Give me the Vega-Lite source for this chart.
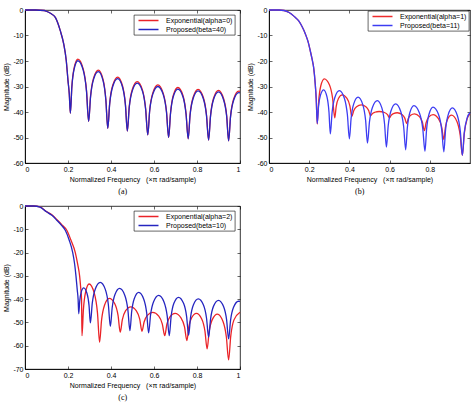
{
  "$schema": "https://vega.github.io/schema/vega-lite/v6.json",
  "padding": {"left": 2, "top": 5, "right": 0, "bottom": 0},
  "config": {
    "font": "Liberation Sans",
    "view": {"stroke": "black", "strokeWidth": 0.8},
    "axis": {
      "grid": false, "labelFontSize": 7, "titleFontSize": 7, "titleFontWeight": "normal",
      "labelColor": "black", "titleColor": "black", "domainColor": "black", "domainWidth": 0.8,
      "tickColor": "black", "tickSize": -3, "tickWidth": 0.6, "labelPadding": 5, "titlePadding": 3
    },
    "legend": {
      "orient": "top-right", "offset": 5, "fillColor": "white", "strokeColor": "black", "strokeWidth": 0.6,
      "padding": 2, "symbolType": "M-0.5,0H9.5", "symbolSize": 16, "symbolStrokeWidth": 1.5,
      "labelFont": "Liberation Sans", "labelFontSize": 7, "labelColor": "black", "labelOffset": 23,
      "rowPadding": 1, "title": null
    },
    "title": {"font": "Liberation Serif", "fontSize": 8, "fontWeight": "normal", "color": "black", "orient": "bottom", "frame": "bounds", "offset": 6}
  },
  "datasets": {
    "a": [
      {"s":"E","f":0,"m":0},{"s":"E","f":0.05,"m":0},{"s":"E","f":0.09,"m":-0.2},{"s":"E","f":0.102,"m":-0.6},{"s":"E","f":0.12,"m":-1.4},{"s":"E","f":0.141,"m":-2.9},{"s":"E","f":0.164,"m":-8.1},{"s":"E","f":0.18,"m":-13.3},{"s":"E","f":0.192,"m":-19.9},{"s":"E","f":0.2,"m":-27.7},{"s":"E","f":0.206,"m":-33},{"s":"E","f":0.211,"m":-40.5},
      {"s":"E","f":0.218,"m":-29.9},{"s":"E","f":0.2285,"m":-22.7},{"s":"E","f":0.246,"m":-19.3},{"s":"E","f":0.271,"m":-23.2},{"s":"E","f":0.286,"m":-31.5},{"s":"E","f":0.296,"m":-43.7},
      {"s":"E","f":0.305,"m":-33.7},{"s":"E","f":0.3185,"m":-26.8},{"s":"E","f":0.341,"m":-23.6},{"s":"E","f":0.363,"m":-27.2},{"s":"E","f":0.376,"m":-35},{"s":"E","f":0.385,"m":-46.4},
      {"s":"E","f":0.394,"m":-36.4},{"s":"E","f":0.408,"m":-29.5},{"s":"E","f":0.431,"m":-26.3},{"s":"E","f":0.4535,"m":-29.7},{"s":"E","f":0.467,"m":-36.9},{"s":"E","f":0.476,"m":-47.5},
      {"s":"E","f":0.485,"m":-37.8},{"s":"E","f":0.499,"m":-31.2},{"s":"E","f":0.522,"m":-28.1},{"s":"E","f":0.5465,"m":-31.4},{"s":"E","f":0.561,"m":-38.6},{"s":"E","f":0.571,"m":-49},
      {"s":"E","f":0.58,"m":-39.2},{"s":"E","f":0.5945,"m":-32.5},{"s":"E","f":0.618,"m":-29.4},{"s":"E","f":0.643,"m":-32.7},{"s":"E","f":0.658,"m":-39.7},{"s":"E","f":0.668,"m":-50},
      {"s":"E","f":0.677,"m":-40.2},{"s":"E","f":0.6895,"m":-33.5},{"s":"E","f":0.711,"m":-30.4},{"s":"E","f":0.735,"m":-33.6},{"s":"E","f":0.749,"m":-40.5},{"s":"E","f":0.759,"m":-50.5},
      {"s":"E","f":0.768,"m":-40.8},{"s":"E","f":0.782,"m":-34.2},{"s":"E","f":0.805,"m":-31.1},{"s":"E","f":0.8295,"m":-34.3},{"s":"E","f":0.844,"m":-41},{"s":"E","f":0.854,"m":-51},
      {"s":"E","f":0.863,"m":-41.3},{"s":"E","f":0.877,"m":-34.6},{"s":"E","f":0.9,"m":-31.5},{"s":"E","f":0.9235,"m":-34.7},{"s":"E","f":0.938,"m":-41.4},{"s":"E","f":0.947,"m":-51.3},
      {"s":"E","f":0.956,"m":-41.6},{"s":"E","f":0.9705,"m":-34.9},{"s":"E","f":0.994,"m":-31.8},{"s":"E","f":1,"m":-31.9},

      {"s":"P","f":0,"m":0},{"s":"P","f":0.05,"m":0},{"s":"P","f":0.09,"m":-0.2},{"s":"P","f":0.102,"m":-0.6},{"s":"P","f":0.12,"m":-1.4},{"s":"P","f":0.141,"m":-2.9},{"s":"P","f":0.164,"m":-8.1},{"s":"P","f":0.18,"m":-13.3},{"s":"P","f":0.192,"m":-19.9},{"s":"P","f":0.2,"m":-27.7},{"s":"P","f":0.206,"m":-33},{"s":"P","f":0.211,"m":-40.5},
      {"s":"P","f":0.218,"m":-30.2},{"s":"P","f":0.2285,"m":-23.2},{"s":"P","f":0.246,"m":-19.9},{"s":"P","f":0.271,"m":-23.7},{"s":"P","f":0.286,"m":-31.8},{"s":"P","f":0.296,"m":-43.7},
      {"s":"P","f":0.305,"m":-34},{"s":"P","f":0.3185,"m":-27.3},{"s":"P","f":0.341,"m":-24.2},{"s":"P","f":0.363,"m":-27.7},{"s":"P","f":0.376,"m":-35.3},{"s":"P","f":0.385,"m":-46.4},
      {"s":"P","f":0.394,"m":-36.7},{"s":"P","f":0.408,"m":-30},{"s":"P","f":0.431,"m":-26.9},{"s":"P","f":0.4535,"m":-30.2},{"s":"P","f":0.467,"m":-37.2},{"s":"P","f":0.476,"m":-47.5},
      {"s":"P","f":0.485,"m":-38.1},{"s":"P","f":0.499,"m":-31.7},{"s":"P","f":0.522,"m":-28.7},{"s":"P","f":0.5465,"m":-31.9},{"s":"P","f":0.561,"m":-38.9},{"s":"P","f":0.571,"m":-49},
      {"s":"P","f":0.58,"m":-39.5},{"s":"P","f":0.5945,"m":-33},{"s":"P","f":0.618,"m":-30},{"s":"P","f":0.643,"m":-33.2},{"s":"P","f":0.658,"m":-40},{"s":"P","f":0.668,"m":-50},
      {"s":"P","f":0.677,"m":-40.5},{"s":"P","f":0.6895,"m":-34},{"s":"P","f":0.711,"m":-31},{"s":"P","f":0.735,"m":-34.1},{"s":"P","f":0.749,"m":-40.8},{"s":"P","f":0.759,"m":-50.5},
      {"s":"P","f":0.768,"m":-41.1},{"s":"P","f":0.782,"m":-34.7},{"s":"P","f":0.805,"m":-31.7},{"s":"P","f":0.8295,"m":-34.8},{"s":"P","f":0.844,"m":-41.3},{"s":"P","f":0.854,"m":-51},
      {"s":"P","f":0.863,"m":-41.6},{"s":"P","f":0.877,"m":-35.1},{"s":"P","f":0.9,"m":-32.1},{"s":"P","f":0.9235,"m":-35.2},{"s":"P","f":0.938,"m":-41.7},{"s":"P","f":0.947,"m":-51.3},
      {"s":"P","f":0.956,"m":-41.9},{"s":"P","f":0.9705,"m":-35.4},{"s":"P","f":0.994,"m":-32.4},{"s":"P","f":1,"m":-32.5}
    ],
    "b": [
      {"s":"E","f":0,"m":0},{"s":"E","f":0.05,"m":0},{"s":"E","f":0.075,"m":-0.2},{"s":"E","f":0.1,"m":-1},{"s":"E","f":0.125,"m":-2.5},{"s":"E","f":0.147,"m":-4.2},{"s":"E","f":0.165,"m":-6.6},{"s":"E","f":0.181,"m":-9.4},{"s":"E","f":0.195,"m":-12.6},{"s":"E","f":0.205,"m":-15.9},{"s":"E","f":0.215,"m":-19.5},{"s":"E","f":0.222,"m":-22.5},{"s":"E","f":0.23,"m":-29},{"s":"E","f":0.235,"m":-35},{"s":"E","f":0.24,"m":-44.7},
      {"s":"E","f":0.247,"m":-35.9},{"s":"E","f":0.2575,"m":-29.8},{"s":"E","f":0.275,"m":-27},{"s":"E","f":0.301,"m":-29.4},{"s":"E","f":0.3166,"m":-34.7},{"s":"E","f":0.327,"m":-42.3},
      {"s":"E","f":0.3344,"m":-37.8},{"s":"E","f":0.3455,"m":-34.7},{"s":"E","f":0.364,"m":-33.3},{"s":"E","f":0.388,"m":-34.7},{"s":"E","f":0.4024,"m":-37.6},{"s":"E","f":0.412,"m":-41.8},
      {"s":"E","f":0.4214,"m":-39.5},{"s":"E","f":0.4355,"m":-37.9},{"s":"E","f":0.459,"m":-37.2},{"s":"E","f":0.482,"m":-37.9},{"s":"E","f":0.4958,"m":-39.4},{"s":"E","f":0.505,"m":-41.5},
      {"s":"E","f":0.5136,"m":-40.65},{"s":"E","f":0.5265,"m":-40.1},{"s":"E","f":0.548,"m":-39.8},{"s":"E","f":0.574,"m":-40.2},{"s":"E","f":0.5896,"m":-41.05},{"s":"E","f":0.6,"m":-42.3},
      {"s":"E","f":0.6076,"m":-41.3},{"s":"E","f":0.619,"m":-40.6},{"s":"E","f":0.638,"m":-40.3},{"s":"E","f":0.6615,"m":-41},{"s":"E","f":0.6756,"m":-42.4},{"s":"E","f":0.685,"m":-44.5},
      {"s":"E","f":0.6928,"m":-42.6},{"s":"E","f":0.7045,"m":-41.3},{"s":"E","f":0.724,"m":-40.7},{"s":"E","f":0.7485,"m":-41.8},{"s":"E","f":0.7632,"m":-44},{"s":"E","f":0.773,"m":-47.3},
      {"s":"E","f":0.7816,"m":-44.2},{"s":"E","f":0.7945,"m":-42},{"s":"E","f":0.816,"m":-41},{"s":"E","f":0.843,"m":-42.6},{"s":"E","f":0.8592,"m":-45.9},{"s":"E","f":0.87,"m":-50.8},
      {"s":"E","f":0.8776,"m":-46},{"s":"E","f":0.889,"m":-42.7},{"s":"E","f":0.908,"m":-41.2},{"s":"E","f":0.935,"m":-43.7},{"s":"E","f":0.9512,"m":-49.1},{"s":"E","f":0.962,"m":-57},
      {"s":"E","f":0.9716,"m":-48.5},{"s":"E","f":0.986,"m":-42.6},{"s":"E","f":1,"m":-40.8},

      {"s":"P","f":0,"m":0},{"s":"P","f":0.05,"m":0},{"s":"P","f":0.075,"m":-0.2},{"s":"P","f":0.1,"m":-1},{"s":"P","f":0.125,"m":-2.5},{"s":"P","f":0.147,"m":-4.2},{"s":"P","f":0.165,"m":-6.6},{"s":"P","f":0.181,"m":-9.4},{"s":"P","f":0.195,"m":-12.6},{"s":"P","f":0.205,"m":-15.9},{"s":"P","f":0.215,"m":-19.5},{"s":"P","f":0.222,"m":-22.5},{"s":"P","f":0.23,"m":-29},{"s":"P","f":0.235,"m":-35},{"s":"P","f":0.24,"m":-44.5},
      {"s":"P","f":0.2464,"m":-37.9},{"s":"P","f":0.256,"m":-33.4},{"s":"P","f":0.272,"m":-31.3},{"s":"P","f":0.2885,"m":-34.1},{"s":"P","f":0.2984,"m":-40},{"s":"P","f":0.305,"m":-48.6},
      {"s":"P","f":0.314,"m":-40.1},{"s":"P","f":0.3275,"m":-34.3},{"s":"P","f":0.35,"m":-31.6},{"s":"P","f":0.375,"m":-34.6},{"s":"P","f":0.39,"m":-41.1},{"s":"P","f":0.4,"m":-50.5},
      {"s":"P","f":0.4086,"m":-42.4},{"s":"P","f":0.4215,"m":-36.8},{"s":"P","f":0.443,"m":-34.2},{"s":"P","f":0.4665,"m":-37.1},{"s":"P","f":0.4806,"m":-43.2},{"s":"P","f":0.49,"m":-52.2},
      {"s":"P","f":0.4998,"m":-43.9},{"s":"P","f":0.5145,"m":-38.2},{"s":"P","f":0.539,"m":-35.5},{"s":"P","f":0.5615,"m":-38.4},{"s":"P","f":0.575,"m":-44.7},{"s":"P","f":0.584,"m":-53.8},
      {"s":"P","f":0.5932,"m":-45.3},{"s":"P","f":0.607,"m":-39.5},{"s":"P","f":0.63,"m":-36.8},{"s":"P","f":0.655,"m":-39.7},{"s":"P","f":0.67,"m":-45.8},{"s":"P","f":0.68,"m":-54.8},
      {"s":"P","f":0.6882,"m":-46.2},{"s":"P","f":0.7005,"m":-40.3},{"s":"P","f":0.721,"m":-37.5},{"s":"P","f":0.7485,"m":-40.4},{"s":"P","f":0.765,"m":-46.5},{"s":"P","f":0.776,"m":-55.4},
      {"s":"P","f":0.784,"m":-46.8},{"s":"P","f":0.796,"m":-40.9},{"s":"P","f":0.816,"m":-38.1},{"s":"P","f":0.843,"m":-40.9},{"s":"P","f":0.8592,"m":-46.9},{"s":"P","f":0.87,"m":-55.6},
      {"s":"P","f":0.8784,"m":-47},{"s":"P","f":0.891,"m":-41.2},{"s":"P","f":0.912,"m":-38.4},{"s":"P","f":0.937,"m":-41.4},{"s":"P","f":0.952,"m":-47.7},{"s":"P","f":0.962,"m":-57},
      {"s":"P","f":0.9716,"m":-48},{"s":"P","f":0.986,"m":-42.3},{"s":"P","f":1,"m":-40.2}
    ],
    "c": [
      {"s":"E","f":0,"m":0},{"s":"E","f":0.04,"m":0},{"s":"E","f":0.07,"m":-0.4},{"s":"E","f":0.1,"m":-2.4},{"s":"E","f":0.125,"m":-3.8},{"s":"E","f":0.149,"m":-5.9},{"s":"E","f":0.17,"m":-7.9},{"s":"E","f":0.195,"m":-10.5},{"s":"E","f":0.213,"m":-14.5},{"s":"E","f":0.234,"m":-20},{"s":"E","f":0.245,"m":-25},{"s":"E","f":0.254,"m":-30},{"s":"E","f":0.259,"m":-35},{"s":"E","f":0.263,"m":-40},{"s":"E","f":0.265,"m":-55.7},
      {"s":"E","f":0.2716,"m":-44.6},{"s":"E","f":0.2815,"m":-37.1},{"s":"E","f":0.298,"m":-33.5},{"s":"E","f":0.3225,"m":-37.5},{"s":"E","f":0.3372,"m":-46},{"s":"E","f":0.347,"m":-58.5},
      {"s":"E","f":0.356,"m":-49.1},{"s":"E","f":0.3695,"m":-42.7},{"s":"E","f":0.392,"m":-39.7},{"s":"E","f":0.4175,"m":-42},{"s":"E","f":0.4328,"m":-47},{"s":"E","f":0.443,"m":-54.2},
      {"s":"E","f":0.4528,"m":-48.8},{"s":"E","f":0.4675,"m":-45},{"s":"E","f":0.492,"m":-43.3},{"s":"E","f":0.518,"m":-45},{"s":"E","f":0.5336,"m":-48.6},{"s":"E","f":0.544,"m":-53.8},
      {"s":"E","f":0.554,"m":-49.8},{"s":"E","f":0.569,"m":-47},{"s":"E","f":0.594,"m":-45.7},{"s":"E","f":0.622,"m":-47.3},{"s":"E","f":0.6388,"m":-50.7},{"s":"E","f":0.65,"m":-55.7},
      {"s":"E","f":0.6596,"m":-50.9},{"s":"E","f":0.674,"m":-47.6},{"s":"E","f":0.698,"m":-46.1},{"s":"E","f":0.7255,"m":-48},{"s":"E","f":0.742,"m":-51.95},{"s":"E","f":0.753,"m":-57.8},
      {"s":"E","f":0.7618,"m":-51.95},{"s":"E","f":0.775,"m":-48},{"s":"E","f":0.797,"m":-46.1},{"s":"E","f":0.822,"m":-48.5},{"s":"E","f":0.837,"m":-53.75},{"s":"E","f":0.847,"m":-61.4},
      {"s":"E","f":0.8566,"m":-53.9},{"s":"E","f":0.871,"m":-48.8},{"s":"E","f":0.895,"m":-46.4},{"s":"E","f":0.921,"m":-49.6},{"s":"E","f":0.9366,"m":-56.25},{"s":"E","f":0.947,"m":-66.1},
      {"s":"E","f":0.957,"m":-55.85},{"s":"E","f":0.972,"m":-48.9},{"s":"E","f":1,"m":-45.6},

      {"s":"P","f":0,"m":0},{"s":"P","f":0.04,"m":0},{"s":"P","f":0.07,"m":-0.5},{"s":"P","f":0.1,"m":-2.5},{"s":"P","f":0.125,"m":-4},{"s":"P","f":0.149,"m":-6.2},{"s":"P","f":0.17,"m":-8.3},{"s":"P","f":0.188,"m":-10.5},{"s":"P","f":0.205,"m":-14.5},{"s":"P","f":0.222,"m":-20},{"s":"P","f":0.231,"m":-25},{"s":"P","f":0.237,"m":-30},{"s":"P","f":0.243,"m":-36},{"s":"P","f":0.247,"m":-40},{"s":"P","f":0.25,"m":-46.3},
      {"s":"P","f":0.2546,"m":-40.8},{"s":"P","f":0.2615,"m":-37},{"s":"P","f":0.273,"m":-35.2},{"s":"P","f":0.2885,"m":-37.6},{"s":"P","f":0.2978,"m":-42.7},{"s":"P","f":0.304,"m":-50.2},
      {"s":"P","f":0.3132,"m":-41.5},{"s":"P","f":0.327,"m":-35.6},{"s":"P","f":0.35,"m":-32.8},{"s":"P","f":0.3735,"m":-35.8},{"s":"P","f":0.3876,"m":-42.3},{"s":"P","f":0.397,"m":-51.7},
      {"s":"P","f":0.4056,"m":-43.6},{"s":"P","f":0.4185,"m":-38},{"s":"P","f":0.44,"m":-35.4},{"s":"P","f":0.464,"m":-38.3},{"s":"P","f":0.4784,"m":-44.5},{"s":"P","f":0.488,"m":-53.5},
      {"s":"P","f":0.4962,"m":-45.3},{"s":"P","f":0.5085,"m":-39.7},{"s":"P","f":0.529,"m":-37.1},{"s":"P","f":0.552,"m":-39.9},{"s":"P","f":0.5658,"m":-45.8},{"s":"P","f":0.575,"m":-54.5},
      {"s":"P","f":0.5844,"m":-46.5},{"s":"P","f":0.5985,"m":-41},{"s":"P","f":0.622,"m":-38.4},{"s":"P","f":0.6465,"m":-41.2},{"s":"P","f":0.6612,"m":-47.1},{"s":"P","f":0.671,"m":-55.7},
      {"s":"P","f":0.6796,"m":-47.5},{"s":"P","f":0.6925,"m":-41.8},{"s":"P","f":0.714,"m":-39.2},{"s":"P","f":0.7375,"m":-41.8},{"s":"P","f":0.7516,"m":-47.4},{"s":"P","f":0.761,"m":-55.6},
      {"s":"P","f":0.77,"m":-47.8},{"s":"P","f":0.7835,"m":-42.4},{"s":"P","f":0.806,"m":-39.9},{"s":"P","f":0.83,"m":-42.5},{"s":"P","f":0.8444,"m":-48.2},{"s":"P","f":0.854,"m":-56.4},
      {"s":"P","f":0.8632,"m":-48.5},{"s":"P","f":0.877,"m":-43},{"s":"P","f":0.9,"m":-40.5},{"s":"P","f":0.9235,"m":-43.2},{"s":"P","f":0.9376,"m":-48.8},{"s":"P","f":0.947,"m":-57.1},
      {"s":"P","f":0.9562,"m":-49},{"s":"P","f":0.97,"m":-43.5},{"s":"P","f":0.993,"m":-40.9},{"s":"P","f":1,"m":-41}
    ]
  },
  "columns": 2,
  "spacing": {"row": 43, "column": 29},
  "bounds": "flush",
  "concat": [
    {
      "width": 215, "height": 153,
      "title": {"text": "(a)"},
      "data": {"name": "a"},
      "encoding": {
        "color": {"field": "s", "type": "nominal", "scale": {"domain": ["E", "P"], "range": ["#ea2328", "#2525c0"]},
                  "legend": {"labelExpr": "datum.label == 'E' ? 'Exponential(alpha=0)' : 'Proposed(beta=40)'"}}
      },
      "layer": [
        {
          "transform": [{"filter": "datum.s == 'E'"}],
          "mark": {"type": "line", "interpolate": "monotone", "strokeWidth": 1.3},
          "encoding": {
            "x": {"field": "f", "type": "quantitative", "scale": {"domain": [0, 1], "nice": false, "zero": false},
                  "axis": {"values": [0, 0.2, 0.4, 0.6, 0.8, 1], "labelExpr": "'' + datum.value", "title": "Normalized Frequency \u00a0 (×π rad/sample)"}},
            "y": {"field": "m", "type": "quantitative", "scale": {"domain": [-60, 0], "nice": false},
                  "axis": {"values": [-60, -50, -40, -30, -20, -10, 0], "labelExpr": "'' + datum.value", "title": "Magnitude (dB)"}}
          }
        },
        {
          "transform": [{"filter": "datum.s == 'P'"}],
          "mark": {"type": "line", "interpolate": "monotone", "strokeWidth": 1.3},
          "encoding": {
            "x": {"field": "f", "type": "quantitative", "scale": {"domain": [0, 1], "nice": false, "zero": false},
                  "axis": {"orient": "top", "values": [0, 0.2, 0.4, 0.6, 0.8, 1], "labels": false, "domain": false, "title": null}},
            "y": {"field": "m", "type": "quantitative", "scale": {"domain": [-60, 0], "nice": false},
                  "axis": {"orient": "right", "values": [-60, -50, -40, -30, -20, -10, 0], "labels": false, "domain": false, "title": null}}
          }
        }
      ],
      "resolve": {"axis": {"x": "independent", "y": "independent"}}
    },
    {
      "width": 201, "height": 153,
      "title": {"text": "(b)"},
      "data": {"name": "b"},
      "encoding": {
        "color": {"field": "s", "type": "nominal", "scale": {"domain": ["E", "P"], "range": ["#ee2b2b", "#3c3cf2"]},
                  "legend": {"offset": 1, "labelExpr": "datum.label == 'E' ? 'Exponential(alpha=1)' : 'Proposed(beta=11)'"}}
      },
      "layer": [
        {
          "transform": [{"filter": "datum.s == 'E'"}],
          "mark": {"type": "line", "interpolate": "monotone", "strokeWidth": 1.3},
          "encoding": {
            "x": {"field": "f", "type": "quantitative", "scale": {"domain": [0, 1], "nice": false, "zero": false},
                  "axis": {"values": [0, 0.2, 0.4, 0.6, 0.8], "labelExpr": "'' + datum.value", "title": "Normalized Frequency \u00a0 (×π rad/sample)"}},
            "y": {"field": "m", "type": "quantitative", "scale": {"domain": [-60, 0], "nice": false},
                  "axis": {"values": [-60, -50, -40, -30, -20, -10, 0], "labelExpr": "'' + datum.value", "title": "Magnitude (dB)"}}
          }
        },
        {
          "transform": [{"filter": "datum.s == 'P'"}],
          "mark": {"type": "line", "interpolate": "monotone", "strokeWidth": 1.3},
          "encoding": {
            "x": {"field": "f", "type": "quantitative", "scale": {"domain": [0, 1], "nice": false, "zero": false},
                  "axis": {"orient": "top", "values": [0, 0.2, 0.4, 0.6, 0.8], "labels": false, "domain": false, "title": null}},
            "y": {"field": "m", "type": "quantitative", "scale": {"domain": [-60, 0], "nice": false},
                  "axis": {"orient": "right", "values": [-60, -50, -40, -30, -20, -10, 0], "labels": false, "domain": false, "title": null}}
          }
        }
      ],
      "resolve": {"axis": {"x": "independent", "y": "independent"}}
    },
    {
      "width": 215, "height": 163,
      "title": {"text": "(c)"},
      "data": {"name": "c"},
      "encoding": {
        "color": {"field": "s", "type": "nominal", "scale": {"domain": ["E", "P"], "range": ["#ea2328", "#2525c0"]},
                  "legend": {"labelExpr": "datum.label == 'E' ? 'Exponential(alpha=2)' : 'Proposed(beta=10)'"}}
      },
      "layer": [
        {
          "transform": [{"filter": "datum.s == 'E'"}],
          "mark": {"type": "line", "interpolate": "monotone", "strokeWidth": 1.3},
          "encoding": {
            "x": {"field": "f", "type": "quantitative", "scale": {"domain": [0, 1], "nice": false, "zero": false},
                  "axis": {"values": [0, 0.2, 0.4, 0.6, 0.8, 1], "labelExpr": "'' + datum.value", "title": "Normalized Frequency \u00a0 (×π rad/sample)"}},
            "y": {"field": "m", "type": "quantitative", "scale": {"domain": [-70, 0], "nice": false},
                  "axis": {"values": [-70, -60, -50, -40, -30, -20, -10, 0], "labelExpr": "'' + datum.value", "title": "Magnitude (dB)"}}
          }
        },
        {
          "transform": [{"filter": "datum.s == 'P'"}],
          "mark": {"type": "line", "interpolate": "monotone", "strokeWidth": 1.3},
          "encoding": {
            "x": {"field": "f", "type": "quantitative", "scale": {"domain": [0, 1], "nice": false, "zero": false},
                  "axis": {"orient": "top", "values": [0, 0.2, 0.4, 0.6, 0.8, 1], "labels": false, "domain": false, "title": null}},
            "y": {"field": "m", "type": "quantitative", "scale": {"domain": [-70, 0], "nice": false},
                  "axis": {"orient": "right", "values": [-70, -60, -50, -40, -30, -20, -10, 0], "labels": false, "domain": false, "title": null}}
          }
        }
      ],
      "resolve": {"axis": {"x": "independent", "y": "independent"}}
    }
  ],
  "resolve": {"scale": {"x": "independent", "y": "independent", "color": "independent"}, "legend": {"color": "independent"}}
}
